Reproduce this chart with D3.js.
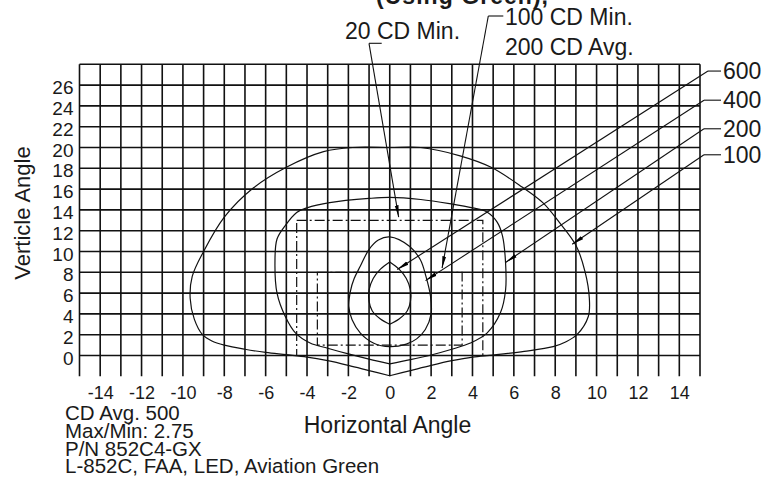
<!DOCTYPE html>
<html lang="en">
<head>
  <meta charset="UTF-8">
  <title>Isocandela Diagram</title>
  <script src="https://d3js.org/d3.v7.min.js"></script>
  <style>
    body { margin: 0; background: #fff; }
    text { font-family: "Liberation Sans", Arial, sans-serif; fill: #1a1a1a; }
  </style>
</head>
<body>
  <div id="chart"></div>

  <script>
    // tick labels
    const xTicks = [-14, -12, -10, -8, -6, -4, -2, 0, 2, 4, 6, 8, 10, 12, 14];
    const yTicks = [0, 2, 4, 6, 8, 10, 12, 14, 16, 18, 20, 22, 24, 26];

    // iso-candela levels and where their arrows land (deg H, deg V)
    const levels = ["600", "400", "200", "100"];
    const levelTips = [[0.36, 8.27], [1.73, 7.2], [5.6, 8.95], [8.82, 10.69]];

    // 100 cd contour, starts and ends at the bottom point
    const curve100 = [
      [0, -1.95], [-1, -1.45], [-2, -0.95], [-3, -0.5], [-4, -0.15], [-5, 0.08], [-6, 0.3],
      [-7, 0.6], [-8, 1.0], [-8.6, 1.4], [-9.05, 2.0], [-9.45, 3.5], [-9.65, 5.5], [-9.55, 7.6],
      [-9.0, 10.0], [-8.0, 13.3], [-6.6, 16.1], [-5.0, 18.1], [-3.2, 19.6], [-1.8, 20], [0, 20],
      [1.5, 20], [3.4, 19.2], [4.9, 18.1], [6.4, 16.2], [7.4, 14.7], [8.2, 12.8], [9.0, 10.6],
      [9.45, 8], [9.65, 5.5], [9.6, 3.75], [9.05, 2], [8.5, 1.3], [7.9, 0.85], [6.5, 0.4],
      [5, 0.05], [4, -0.15], [3, -0.5], [2, -0.95], [1, -1.45], [0, -1.95]
    ];

    // 200 cd contour
    const curve200 = [
      [0, -0.8], [-1, -0.35], [-2, 0.15], [-3, 0.7], [-3.85, 1.2], [-4.55, 2.15], [-5.05, 3.75],
      [-5.45, 6], [-5.55, 8.9], [-5.45, 11.2], [-5.05, 12.5], [-4.5, 13.75], [-4, 14.2],
      [-2.9, 14.7], [-1, 15.1], [0, 15.2], [1.5, 15.0], [2.9, 14.6], [4.0, 14.2], [4.7, 13.8],
      [5.2, 12.8], [5.45, 11.5], [5.6, 8.9], [5.6, 6.3], [5.35, 4.1], [4.7, 2.15], [3.9, 1.2],
      [3, 0.6], [2, 0.05], [1, -0.4], [0, -0.8]
    ];

    // 400 cd contour (closed)
    const curve400 = [
      [0, 11.4], [0.95, 10.5], [1.48, 9.2], [1.75, 7.6], [1.97, 5.7], [2.0, 4.0], [1.72, 2.5],
      [1.3, 1.6], [0.8, 1.1], [0, 0.85], [-0.77, 1.18], [-1.42, 2.15], [-1.82, 3.43],
      [-1.98, 4.7], [-1.9, 6.2], [-1.72, 7.4], [-1.42, 8.6], [-1.0, 10.2], [-0.55, 11.1]
    ];

    // 600 cd contour, two halves between top and bottom points
    const curve600Right = [[0, 9.0], [0.45, 8.3], [0.8, 7.4], [1.0, 6.3], [1.0, 5.2], [0.85, 4.3], [0.45, 3.5], [0, 3.0]];
    const curve600Left = [[0, 9.0], [-0.45, 8.3], [-0.8, 7.4], [-1.0, 6.3], [-1.0, 5.2], [-0.85, 4.3], [-0.45, 3.5], [0, 3.0]];

    // minimum boxes: [H min, V min], [H max, V max]
    const box20 = [[-4.5, 0], [4.5, 13]];
    const box100 = [[-3.5, 1], [3.5, 8]];
    const box20Tip = [0.43, 13.3];
    const box100Tip = [2.53, 8.4];

    const notes = ["CD Avg. 500", "Max/Min: 2.75", "P/N 852C4-GX", "L-852C, FAA, LED, Aviation Green"];

    const W = 764, H = 481;

    const svg = d3.select("#chart").append("svg")
      .attr("width", W)
      .attr("height", H);

    const x = d3.scaleLinear().domain([-15, 15]).range([79.5, 700]);
    const y = d3.scaleLinear().domain([0, 28]).range([355.5, 64.3]);

    const defs = svg.append("defs");
    defs.append("marker")
      .attr("id", "arr")
      .attr("viewBox", "0 -3 12 6")
      .attr("refX", 12)
      .attr("refY", 0)
      .attr("markerWidth", 12)
      .attr("markerHeight", 6)
      .attr("markerUnits", "userSpaceOnUse")
      .attr("orient", "auto")
      .append("path")
      .attr("d", "M0,-1.9L12,0L0,1.9Z")
      .attr("fill", "#000");

    // grid
    const grid = svg.append("g").attr("stroke", "#111").attr("stroke-width", 1.6);
    grid.selectAll(".v")
      .data(d3.range(-15, 16))
      .enter().append("line")
      .attr("x1", d => x(d)).attr("x2", d => x(d))
      .attr("y1", y(28)).attr("y2", y(-2));
    grid.selectAll(".h")
      .data(d3.range(0, 29, 2))
      .enter().append("line")
      .attr("x1", x(-15)).attr("x2", x(15))
      .attr("y1", d => y(d)).attr("y2", d => y(d));

    // axes (labels only), plain hyphen for negatives
    const xAxis = svg.append("g")
      .attr("transform", `translate(0,${y(-2)})`)
      .call(d3.axisBottom(x).tickValues(xTicks).tickSize(0).tickPadding(10).tickFormat(d => String(d)));
    xAxis.select(".domain").remove();
    xAxis.selectAll("text")
      .style("font-size", "18px")
      .style("font-family", "'Liberation Sans', Arial, sans-serif")
      .attr("fill", "#1a1a1a");

    const yAxis = svg.append("g")
      .attr("transform", `translate(${x(-15)},0)`)
      .call(d3.axisLeft(y).tickValues(yTicks).tickSize(0).tickPadding(6).tickFormat(d => String(d)));
    yAxis.select(".domain").remove();
    yAxis.selectAll("text")
      .attr("dy", "0.45em")
      .style("font-size", "19px")
      .style("font-family", "'Liberation Sans', Arial, sans-serif")
      .attr("fill", "#1a1a1a");

    // boxes
    const boxes = svg.append("g")
      .attr("fill", "none")
      .attr("stroke", "#111")
      .attr("stroke-width", 1.2)
      .attr("stroke-dasharray", "10 3 2 3");
    [box20, box100].forEach(b => {
      boxes.append("rect")
        .attr("x", x(b[0][0]))
        .attr("y", y(b[1][1]))
        .attr("width", x(b[1][0]) - x(b[0][0]))
        .attr("height", y(b[0][1]) - y(b[1][1]));
    });

    // contours
    const line = d3.line()
      .x(d => x(d[0]))
      .y(d => y(d[1]))
      .curve(d3.curveCatmullRom.alpha(0.5));
    const closed = d3.line()
      .x(d => x(d[0]))
      .y(d => y(d[1]))
      .curve(d3.curveCatmullRomClosed.alpha(0.5));

    const iso = svg.append("g").attr("fill", "none").attr("stroke", "#111").attr("stroke-width", 1.2);
    iso.append("path").attr("d", line(curve100));
    iso.append("path").attr("d", line(curve200));
    iso.append("path").attr("d", closed(curve400));
    iso.append("path").attr("d", line(curve600Right));
    iso.append("path").attr("d", line(curve600Left));

    // level labels on the right with leaders
    const labelV = [27.35, 24.55, 21.8, 19.3];
    const leaders = svg.append("g").attr("stroke", "#111").attr("stroke-width", 1.1).attr("fill", "none");
    levels.forEach((lv, i) => {
      const ly = y(labelV[i]);
      const lx = i === 0 ? 708 : 704;
      leaders.append("line")
        .attr("x1", lx).attr("x2", 721)
        .attr("y1", ly).attr("y2", ly);
      leaders.append("line")
        .attr("x1", lx).attr("y1", ly)
        .attr("x2", x(levelTips[i][0])).attr("y2", y(levelTips[i][1]))
        .attr("marker-end", "url(#arr)");
      svg.append("text")
        .attr("x", 723)
        .attr("y", ly + 8)
        .style("font-size", "23px")
        .text(lv);
    });

    // box labels at the top
    leaders.append("path")
      .attr("d", `M381.7,43.3H369`);
    leaders.append("line")
      .attr("x1", 369).attr("y1", 43.3)
      .attr("x2", x(box20Tip[0])).attr("y2", y(box20Tip[1]))
      .attr("marker-end", "url(#arr)");
    leaders.append("path")
      .attr("d", `M503.3,16H488.3`);
    leaders.append("line")
      .attr("x1", 488.3).attr("y1", 16)
      .attr("x2", x(box100Tip[0])).attr("y2", y(box100Tip[1]))
      .attr("marker-end", "url(#arr)");

    svg.append("text").attr("x", 345).attr("y", 38.5).style("font-size", "23px").text("20 CD Min.");
    svg.append("text").attr("x", 505).attr("y", 25).style("font-size", "23px").text("100 CD Min.");
    svg.append("text").attr("x", 505).attr("y", 55).style("font-size", "23px").text("200 CD Avg.");

    // title line, mostly cut off by the top edge
    svg.append("text")
      .attr("x", 376)
      .attr("y", 4)
      .attr("textLength", 172)
      .attr("lengthAdjust", "spacing")
      .style("font-size", "23px")
      .style("font-weight", "bold")
      .text("(Using Green),");

    // axis titles
    svg.append("text")
      .attr("x", 387.5)
      .attr("y", 433)
      .attr("text-anchor", "middle")
      .style("font-size", "23px")
      .text("Horizontal Angle");

    svg.append("text")
      .attr("transform", "translate(30,213) rotate(-90)")
      .attr("text-anchor", "middle")
      .style("font-size", "22px")
      .text("Verticle Angle");

    // notes bottom left
    svg.append("g").selectAll("text")
      .data(notes)
      .enter().append("text")
      .attr("x", 65)
      .attr("y", (d, i) => 420 + i * 17.8)
      .style("font-size", "20.5px")
      .text(d => d);
  </script>
</body>
</html>
